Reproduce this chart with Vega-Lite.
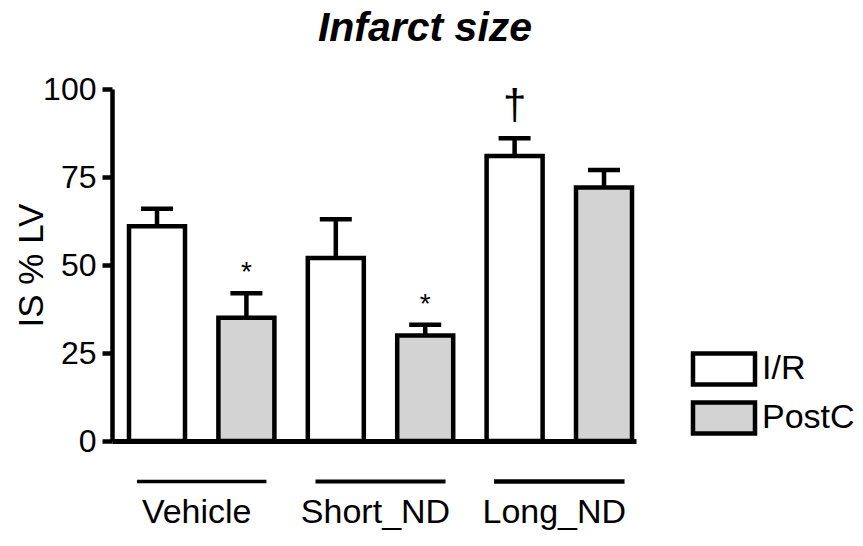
{
  "$schema": "https://vega.github.io/schema/vega-lite/v6.json",
  "autosize": {"type": "none"},
  "padding": {"left": 112, "top": 89, "right": 227, "bottom": 105},
  "width": 524,
  "height": 352,
  "background": "white",
  "title": {
    "text": "Infarct size",
    "fontSize": 41,
    "fontStyle": "italic",
    "fontWeight": "bold",
    "color": "black",
    "anchor": "middle",
    "frame": "group",
    "dx": 51,
    "offset": 23
  },
  "config": {
    "font": "Liberation Sans",
    "view": {"stroke": null},
    "axis": {"grid": false, "labelColor": "black", "titleColor": "black"}
  },
  "datasets": {
    "bars": [
      {"group": "Vehicle", "cond": "I/R", "value": 61, "err": 66, "sig": ""},
      {"group": "Vehicle", "cond": "PostC", "value": 35, "err": 42, "sig": "*"},
      {"group": "Short_ND", "cond": "I/R", "value": 52, "err": 63, "sig": ""},
      {"group": "Short_ND", "cond": "PostC", "value": 30, "err": 33, "sig": "*"},
      {"group": "Long_ND", "cond": "I/R", "value": 81, "err": 86, "sig": "†"},
      {"group": "Long_ND", "cond": "PostC", "value": 72, "err": 77, "sig": ""}
    ],
    "groups": [
      {"group": "Vehicle", "line": -11.5},
      {"group": "Short_ND", "line": -11.5},
      {"group": "Long_ND", "line": -11.5}
    ]
  },
  "encoding": {
    "x": {
      "field": "group",
      "type": "nominal",
      "sort": ["Vehicle", "Short_ND", "Long_ND"],
      "scale": {"paddingInner": 0.1868, "paddingOuter": 0.0587, "align": 0.81},
      "axis": {
        "title": null,
        "labelAngle": 0,
        "ticks": false,
        "domain": true,
        "domainColor": "black",
        "domainWidth": 5,
        "labelFontSize": 34,
        "labelPadding": 54,
        "labelOffset": -5
      }
    }
  },
  "layer": [
    {
      "data": {"name": "bars"},
      "mark": {"type": "rule", "color": "black", "strokeWidth": 4.5},
      "encoding": {
        "xOffset": {"field": "cond", "type": "nominal", "scale": {"paddingInner": 0.3736, "paddingOuter": 0}},
        "y": {
          "field": "value",
          "type": "quantitative",
          "scale": {"domain": [0, 100], "nice": false},
          "axis": {
            "values": [0, 25, 50, 75, 100],
            "title": "IS % LV",
            "titleFontSize": 35,
            "titleFontWeight": "normal",
            "titlePadding": -7,
            "labelFontSize": 32,
            "labelPadding": 6,
            "domainColor": "black",
            "domainWidth": 4.5,
            "tickColor": "black",
            "tickWidth": 4.5,
            "tickSize": 10
          }
        },
        "y2": {"field": "err"}
      }
    },
    {
      "data": {"name": "bars"},
      "mark": {"type": "tick", "color": "black", "size": 32, "thickness": 4.5, "opacity": 1},
      "encoding": {
        "xOffset": {"field": "cond", "type": "nominal"},
        "y": {"field": "err", "type": "quantitative"}
      }
    },
    {
      "data": {"name": "bars"},
      "mark": {"type": "bar", "stroke": "black", "strokeWidth": 4.5, "opacity": 1},
      "encoding": {
        "xOffset": {"field": "cond", "type": "nominal"},
        "y": {"field": "value", "type": "quantitative"},
        "fill": {
          "field": "cond",
          "type": "nominal",
          "scale": {"domain": ["I/R", "PostC"], "range": ["white", "#d3d3d3"]},
          "legend": {
            "title": null,
            "orient": "none",
            "legendX": 594,
            "legendY": 262,
            "padding": 0,
            "symbolType": "M-2,-1H2V1H-2Z",
            "symbolSize": 961,
            "symbolStrokeColor": "black",
            "symbolStrokeWidth": 4.5,
            "symbolOpacity": 1,
            "labelFontSize": 34,
            "labelColor": "black",
            "labelOffset": 20,
            "rowPadding": -1
          }
        }
      }
    },
    {
      "data": {"name": "bars"},
      "transform": [{"filter": "datum.sig === '*'"}],
      "mark": {"type": "text", "color": "black", "baseline": "alphabetic", "fontSize": 28, "dy": -12},
      "encoding": {
        "xOffset": {"field": "cond", "type": "nominal"},
        "y": {"field": "err", "type": "quantitative"},
        "text": {"field": "sig"}
      }
    },
    {
      "data": {"name": "bars"},
      "transform": [{"filter": "datum.sig === '†'"}],
      "mark": {"type": "text", "color": "black", "baseline": "alphabetic", "fontSize": 42, "dy": -19},
      "encoding": {
        "xOffset": {"field": "cond", "type": "nominal"},
        "y": {"field": "err", "type": "quantitative"},
        "text": {"field": "sig"}
      }
    },
    {
      "data": {"name": "groups"},
      "mark": {"type": "tick", "color": "black", "size": 127, "thickness": 1, "stroke": "black", "opacity": 1, "clip": false},
      "encoding": {
        "y": {"field": "line", "type": "quantitative"},
        "strokeWidth": {
          "field": "group",
          "type": "nominal",
          "scale": {"domain": ["Vehicle", "Short_ND", "Long_ND"], "range": [2.5, 3.5, 4.5]},
          "legend": null
        }
      }
    }
  ]
}
